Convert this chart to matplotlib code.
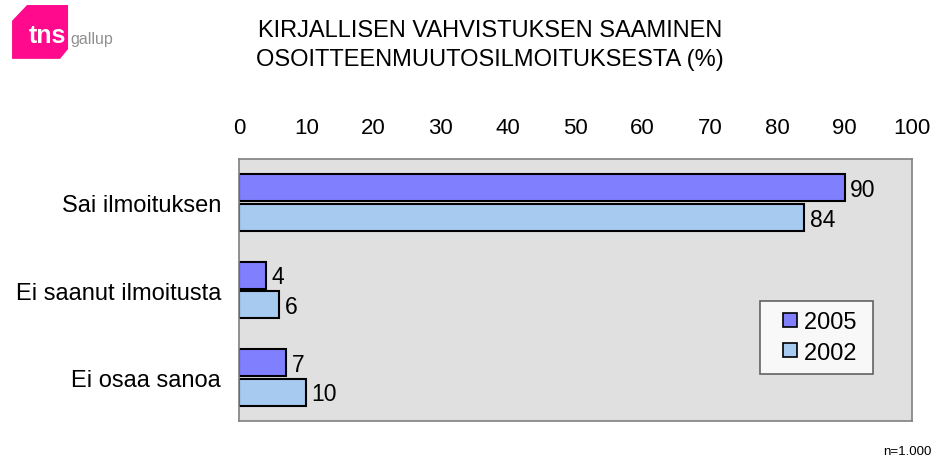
import numpy as np
import matplotlib.pyplot as plt
from matplotlib.patches import Polygon
from matplotlib.lines import Line2D

plt.rcParams['font.family'] = ['Liberation Sans', 'DejaVu Sans']

categories = ["Sai ilmoituksen", "Ei saanut ilmoitusta", "Ei osaa sanoa"]
v2005 = [90, 4, 7]
v2002 = [84, 6, 10]
series = ["2005", "2002"]
colors = ["#8080FF", "#A6CAF0"]

fig = plt.figure(figsize=(9.41, 4.64), dpi=100)
ax = fig.add_axes([0.254, 0.0905, 0.715, 0.5645])
ax.set_facecolor("#E0E0E0")

y = np.arange(len(categories))
h = 0.31
b1 = ax.barh(y - 0.17, v2005, height=h, color=colors[0], edgecolor="black", linewidth=1.5)
b2 = ax.barh(y + 0.17, v2002, height=h, color=colors[1], edgecolor="black", linewidth=1.5)
for bars, vals in ((b1, v2005), (b2, v2002)):
    for bar, v in zip(bars, vals):
        ax.text(v + 0.8, bar.get_y() + bar.get_height() / 2 + 0.02, str(v), va="center", ha="left", fontsize=16.5)

ax.set_xlim(0, 100)
ax.set_ylim(2.5, -0.5)
ax.set_xticks(range(0, 101, 10))
ax.xaxis.tick_top()
ax.tick_params(axis="x", length=0, pad=15, labelsize=16)
ax.set_yticks(y)
ax.set_yticklabels(categories)
ax.tick_params(axis="y", length=0, pad=13, labelsize=17)
for s in ax.spines.values():
    s.set_color("#808080")
    s.set_linewidth(1.2)

handles = [Line2D([], [], ls="none", marker="s", markersize=10, markerfacecolor=c,
                  markeredgecolor="black", markeredgewidth=1.2) for c in colors]
leg = ax.legend(handles, [s + " " for s in series], loc="lower right", bbox_to_anchor=(0.943, 0.178),
                fontsize=17, frameon=True, fancybox=False, handlelength=1.6, handletextpad=-0.2,
                borderpad=0.45, labelspacing=0.35, borderaxespad=0)
leg.get_frame().set_edgecolor("#404040")
leg.get_frame().set_linewidth(1.2)

fig.text(0.521, 0.902, "KIRJALLISEN VAHVISTUKSEN SAAMINEN\nOSOITTEENMUUTOSILMOITUKSESTA (%)",
         ha="center", va="center", fontsize=17, linespacing=1.38)
fig.text(0.99, 0.025, "n=1.000", ha="right", va="center", fontsize=9.5)

# logo
logo = Polygon([[0.0128, 0.953], [0.0287, 0.987], [0.0723, 0.987], [0.0723, 0.892], [0.0638, 0.871], [0.0128, 0.871]],
               closed=True, transform=fig.transFigure, facecolor="#FF0A8C", edgecolor="none")
fig.patches.append(logo)
fig.text(0.0305, 0.922, "tns", color="white", fontsize=18, fontweight="bold", va="center", ha="left")
fig.text(0.0745, 0.915, "gallup", color="#909090", fontsize=11.5, va="center", ha="left")

fig.savefig("out.png", dpi=100)
